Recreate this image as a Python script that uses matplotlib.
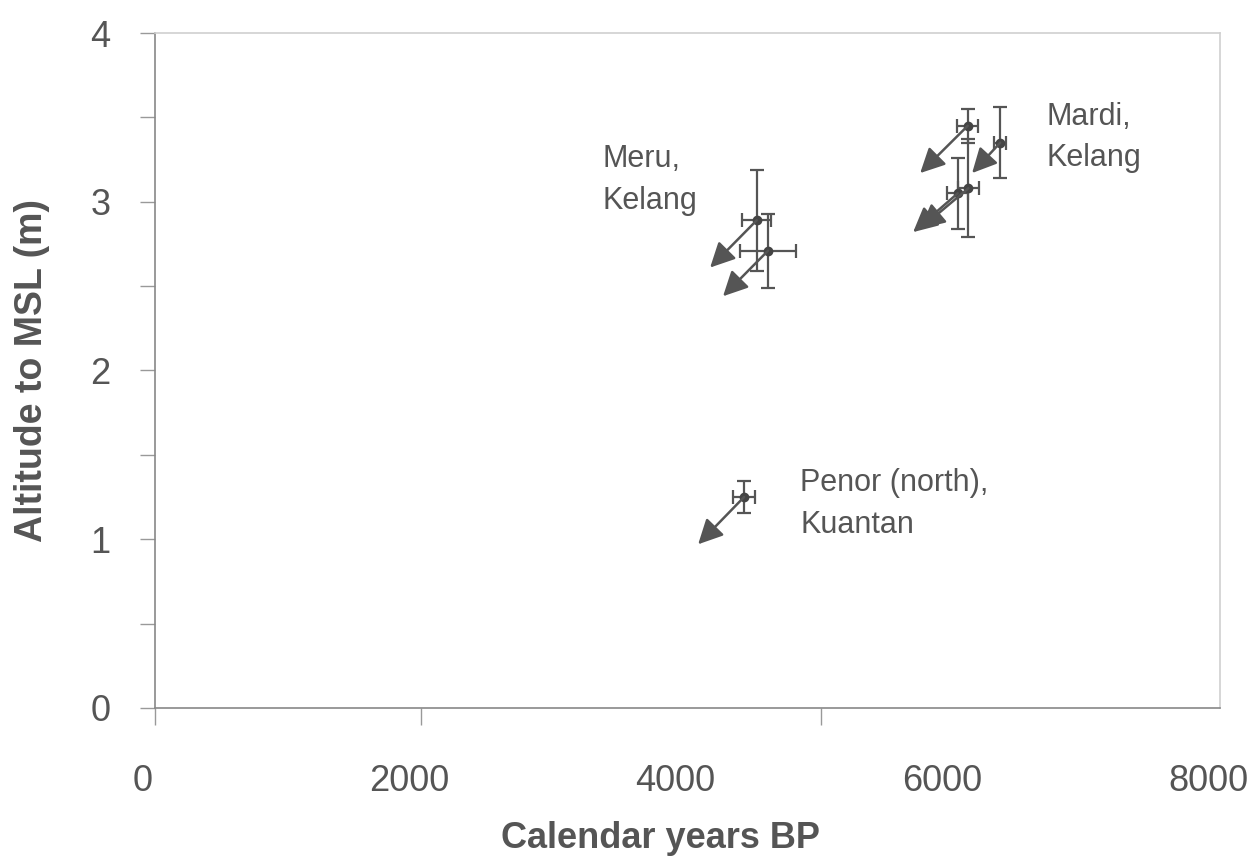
import matplotlib.pyplot as plt
import matplotlib.transforms as mtransforms
import numpy as np

# Calibrated ages (years BP) and altitudes of the dated samples
sites = ["Meru", "Meru", "Mardi", "Mardi", "Mardi", "Mardi", "Penor"]
age = np.array([4520, 4605, 6105, 6349, 6030, 6110, 4425])
age_err = np.array([110, 210, 80, 45, 80, 80, 83])
alt = np.array([2.89, 2.71, 3.45, 3.35, 3.05, 3.08, 1.25])
alt_err = np.array([0.30, 0.22, 0.10, 0.21, 0.21, 0.29, 0.095])

# Corrected positions each arrow points to
arrow_age = np.array([4170, 4267, 5748, 6138, 5695, 5748, 4080])
arrow_alt = np.array([2.61, 2.44, 3.17, 3.17, 2.82, 2.84, 0.97])

labels = ["Meru,\nKelang", "Mardi,\nKelang", "Penor (north),\nKuantan"]
label_x = [3358, 6694, 4846]
label_y = [3.13, 3.38, 1.21]

plt.rcParams['font.family'] = ['Liberation Sans', 'DejaVu Sans']
grey = '#555555'

fig = plt.figure(figsize=(12.55, 8.64), dpi=100)
ax = fig.add_axes([0.1235, 0.1806, 0.8486, 0.7812])

for x, y, tx, ty in zip(age, alt, arrow_age, arrow_alt):
    ax.annotate('', xy=(tx, ty), xytext=(x, y),
                arrowprops=dict(arrowstyle='-|>,head_length=1.0,head_width=0.5',
                                mutation_scale=15, color=grey, lw=1.8,
                                shrinkA=0, shrinkB=0))

ax.errorbar(age, alt, xerr=age_err, yerr=alt_err, fmt='o', color='#444444',
            ecolor=grey, elinewidth=1.6, capsize=5, capthick=1.6, markersize=6)

for t, x, y in zip(labels, label_x, label_y):
    ax.text(x, y, t, fontsize=22, color=grey, va='center', ha='left', linespacing=1.5)

ax.set_xlim(0, 8000)
ax.set_ylim(0, 4)
ax.set_xticks([0, 2000, 4000, 6000, 8000])
ax.xaxis.remove_overlapping_locs = False
ax.set_xticks([0, 2000, 5000], minor=True)
ax.set_yticks([0, 1, 2, 3, 4])
ax.set_yticks(np.arange(0, 4.01, 0.5), minor=True)

ax.tick_params(axis='x', which='major', length=0, pad=40, labelsize=26, labelcolor=grey)
ax.tick_params(axis='x', which='minor', length=12, color='#999999', width=1)
ax.tick_params(axis='y', which='both', length=11, color='#999999', width=1)
ax.tick_params(axis='y', which='major', pad=21, labelsize=26, labelcolor=grey)

# year labels sit a little left of their ticks
shift = mtransforms.ScaledTranslation(-0.12, 0, fig.dpi_scale_trans)
for lab in ax.get_xticklabels():
    lab.set_transform(lab.get_transform() + shift)

for side in ['left', 'bottom']:
    ax.spines[side].set_color('#888888')
    ax.spines[side].set_linewidth(1.2)
for side in ['top', 'right']:
    ax.spines[side].set_color('#d0d0d0')
    ax.spines[side].set_linewidth(1.2)

ax.set_xlabel('Calendar years BP', fontsize=26, fontweight='bold', color=grey, labelpad=16)
ax.xaxis.label.set_x(0.475)
ax.set_ylabel('Altitude to MSL (m)', fontsize=27, fontweight='bold', color=grey, labelpad=29)

fig.savefig('out.png', dpi=100, facecolor='white')
